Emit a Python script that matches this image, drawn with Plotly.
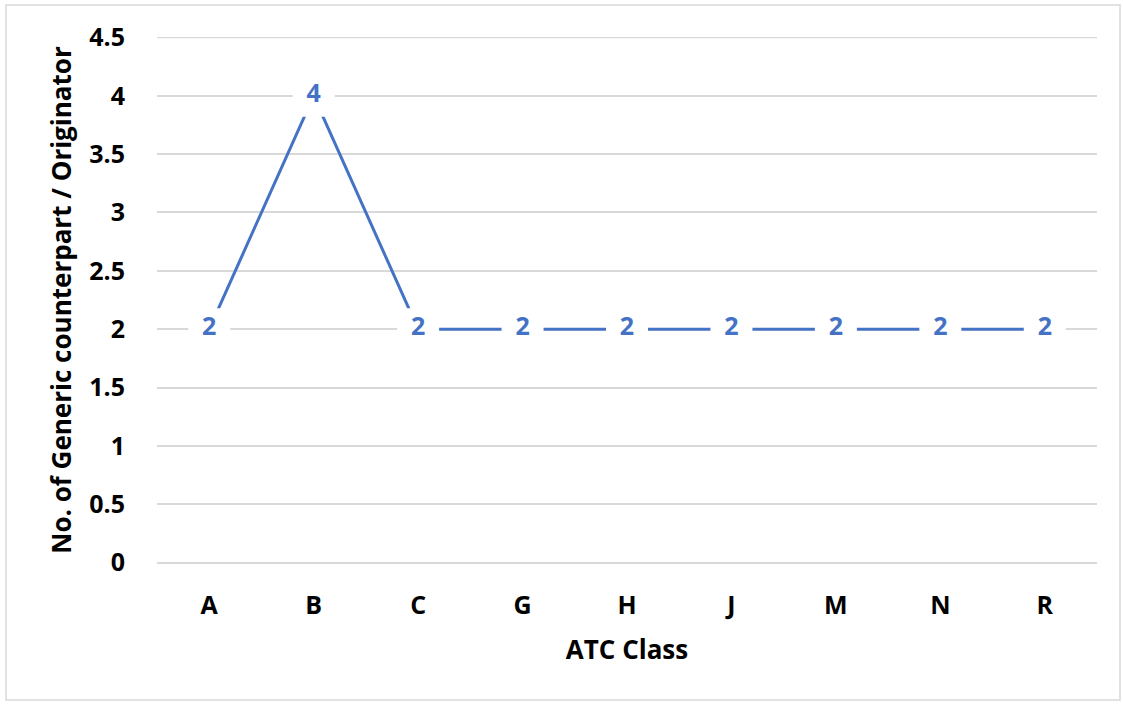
import plotly.graph_objects as go

categories = ["A", "B", "C", "G", "H", "J", "M", "N", "R"]
values = [2, 4, 2, 2, 2, 2, 2, 2, 2]
y_ticks = [0, 0.5, 1, 1.5, 2, 2.5, 3, 3.5, 4, 4.5]
y_ticklabels = ["0", "0.5", "1", "1.5", "2", "2.5", "3", "3.5", "4", "4.5"]

FONT = "Open Sans, Calibri, sans-serif"
BLUE = "#4472C4"
GRID = "#D9D9D9"
FS = 25
TFS = 26

fig = go.Figure()
fig.add_trace(go.Scatter(
    x=categories, y=values,
    mode="lines+markers+text",
    line=dict(color=BLUE, width=3),
    marker=dict(symbol="square", size=42, color="white", line=dict(width=0)),
    text=[str(v) for v in values],
    textposition="middle center",
    textfont=dict(family=FONT, size=FS, color=BLUE, weight="bold"),
    hoverinfo="x+y",
    cliponaxis=False,
))

W, H = 1123, 704
L, R, T, B = 157, 26, 37, 141
pw, ph = W - L - R, H - T - B

fig.add_shape(type="rect", xref="paper", yref="paper",
              x0=(6 - L) / pw, x1=(1120 - L) / pw,
              y0=(H - B - 700) / ph, y1=(H - B - 5) / ph,
              line=dict(color=GRID, width=1.5), fillcolor="rgba(0,0,0,0)", layer="below")
# top gridline (plotly omits gridlines at the range edge)
fig.add_shape(type="line", xref="paper", yref="y", x0=0, x1=1,
              y0=y_ticks[-1], y1=y_ticks[-1],
              line=dict(color=GRID, width=1.5), layer="below")

eps = 0.004
fig.update_layout(
    width=W, height=H,
    margin=dict(l=L, r=R, t=T, b=B),
    paper_bgcolor="white", plot_bgcolor="white",
    showlegend=False,
    font=dict(family=FONT, color="black", size=FS),
    xaxis=dict(
        type="category", range=[-0.5, 8.5],
        showgrid=False, showline=False, zeroline=False,
        ticks="outside", ticklen=20, tickcolor="rgba(0,0,0,0)",
        tickfont=dict(family=FONT, size=FS, color="black", weight="bold"),
        title=dict(text="ATC Class", standoff=20,
                   font=dict(family=FONT, size=TFS, color="black", weight="bold")),
    ),
    yaxis=dict(
        range=[0 - eps, 4.5 + eps], tickvals=y_ticks, ticktext=y_ticklabels,
        showgrid=True, gridcolor=GRID, gridwidth=1.5,
        zeroline=True, zerolinecolor=GRID, zerolinewidth=1.5, showline=False,
        ticks="outside", ticklen=26, tickcolor="rgba(0,0,0,0)",
        tickfont=dict(family=FONT, size=FS, color="black", weight="bold"),
        title=dict(text="No. of Generic counterpart / Originator", standoff=10,
                   font=dict(family=FONT, size=TFS, color="black", weight="bold")),
    ),
)

fig.write_html("out.html", config={"displayModeBar": False},
               post_script="document.body.style.margin='0';document.body.style.overflow='hidden';")
